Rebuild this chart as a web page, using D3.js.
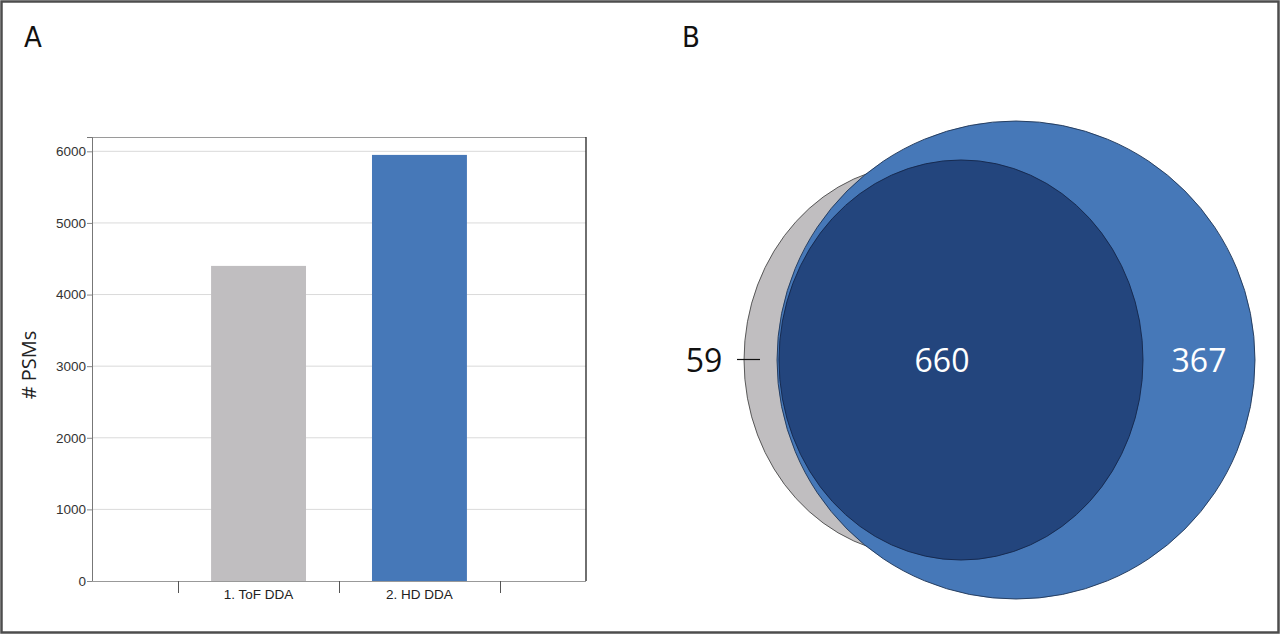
<!DOCTYPE html>
<html>
<head>
<meta charset="utf-8">
<script src="https://cdn.jsdelivr.net/npm/d3@7/dist/d3.min.js"></script>
<style>
  html, body { margin: 0; padding: 0; background: #fff; }
  svg { display: block; }
</style>
</head>
<body>
<svg id="fig" width="1280" height="634"></svg>
<script>
// panel A data
const categories = ['1. ToF DDA', '2. HD DDA'];
const psmCounts = [4400, 5950];
const barColors = ['#c0bec0', '#4678b8'];
const yTicks = [0, 1000, 2000, 3000, 4000, 5000, 6000];

// panel B data: only ToF, shared, only HD
const vennLabels = ['ToF only', 'shared', 'HD only'];
const vennCounts = [59, 660, 367];

const svg = d3.select('svg#fig');

// outer frame
svg.append('rect')
  .attr('x', 1.5).attr('y', 1.5)
  .attr('width', 1277).attr('height', 631)
  .attr('fill', 'none')
  .attr('stroke', '#4d4d4d')
  .attr('stroke-width', 2.5);

const panelFont = '"DejaVu Sans Condensed", "Liberation Sans", sans-serif';
svg.append('text').attr('x', 24).attr('y', 47)
  .attr('font-family', panelFont).attr('font-size', 29).attr('fill', '#111')
  .text('A');
svg.append('text').attr('x', 682).attr('y', 47)
  .attr('font-family', panelFont).attr('font-size', 29).attr('fill', '#111')
  .text('B');

// ---------- panel A: bar chart ----------
const plotLeft = 92, plotRight = 586, plotTop = 137, plotBottom = 581;
const axisFont = '"Liberation Sans", Arial, sans-serif';

const x = d3.scaleBand()
  .domain(categories)
  .range([plotLeft, plotRight])
  .paddingInner(0.41)
  .paddingOuter(0.74);

const y = d3.scaleLinear()
  .domain([0, 6200])
  .range([plotBottom, plotTop]);

const gA = svg.append('g');

// gridlines
gA.selectAll('.grid')
  .data(yTicks.filter(d => d > 0))
  .enter().append('line')
  .attr('x1', plotLeft).attr('x2', plotRight)
  .attr('y1', d => y(d)).attr('y2', d => y(d))
  .attr('stroke', '#dadada')
  .attr('stroke-width', 1);

// bars
gA.selectAll('.bar')
  .data(categories)
  .enter().append('rect')
  .attr('x', d => x(d))
  .attr('width', x.bandwidth())
  .attr('y', (d, i) => y(psmCounts[i]))
  .attr('height', (d, i) => plotBottom - y(psmCounts[i]))
  .attr('fill', (d, i) => barColors[i]);

// frame of the plot
gA.append('line').attr('x1', plotLeft).attr('x2', plotRight).attr('y1', plotTop + 0.5).attr('y2', plotTop + 0.5)
  .attr('stroke', '#9a9a9a');
gA.append('line').attr('x1', plotRight).attr('x2', plotRight).attr('y1', plotTop).attr('y2', plotBottom)
  .attr('stroke', '#222').attr('stroke-width', 1.3);

// y axis
const yAxis = d3.axisLeft(y)
  .tickValues(yTicks)
  .tickSize(5)
  .tickPadding(1)
  .tickFormat(d3.format('d'));

const yG = gA.append('g')
  .attr('transform', `translate(${plotLeft},0)`)
  .call(yAxis);
yG.attr('font-family', axisFont).attr('font-size', 13.5);
yG.select('.domain').attr('stroke', '#777');
yG.selectAll('.tick line').attr('stroke', '#888');
yG.selectAll('.tick text').attr('fill', '#333');

// x axis: baseline, category boundary ticks, labels
gA.append('line').attr('x1', plotLeft).attr('x2', plotRight).attr('y1', plotBottom + 0.5).attr('y2', plotBottom + 0.5)
  .attr('stroke', '#999');

const step = x.step();
const bounds = categories.map(c => x(c) - step * x.paddingInner() / 2);
bounds.push(x(categories[categories.length - 1]) + x.bandwidth() + step * x.paddingInner() / 2);

gA.selectAll('.xtick')
  .data(bounds)
  .enter().append('line')
  .attr('x1', d => Math.round(d) + 0.5).attr('x2', d => Math.round(d) + 0.5)
  .attr('y1', plotBottom).attr('y2', plotBottom + 12)
  .attr('stroke', '#555');

gA.selectAll('.xlabel')
  .data(categories)
  .enter().append('text')
  .attr('x', d => x(d) + x.bandwidth() / 2)
  .attr('y', 599)
  .attr('text-anchor', 'middle')
  .attr('font-family', axisFont)
  .attr('font-size', 13.5)
  .attr('fill', '#222')
  .text(d => d);

gA.append('text')
  .attr('transform', `translate(36,${(plotTop + plotBottom) / 2 + 6}) rotate(-90)`)
  .attr('text-anchor', 'middle')
  .attr('font-family', '"Open Sans", "Noto Sans", sans-serif')
  .attr('font-size', 20)
  .attr('fill', '#222')
  .text('# PSMs');

// ---------- panel B: Venn ----------
const tofTotal = vennCounts[0] + vennCounts[1];
const hdTotal = vennCounts[1] + vennCounts[2];

const r = d3.scaleSqrt().domain([0, hdTotal]).range([0, 239]);

const cy = 360;
const hdCx = 1016;
const shapes = [
  {name: 'ToF', n: tofTotal, cx: hdCx - 94, sx: 0.89, sy: 0.98, fill: '#c0bec0', stroke: '#4a4a4a'},
  {name: 'HD', n: hdTotal, cx: hdCx, sx: 1, sy: 1, fill: '#4678b8', stroke: '#1f3556'},
  {name: 'shared', n: vennCounts[1], cx: hdCx - 55, sx: 0.95, sy: 1.044, fill: '#23457d', stroke: '#14264a'}
];

const gB = svg.append('g');
gB.selectAll('ellipse')
  .data(shapes)
  .enter().append('ellipse')
  .attr('cx', d => d.cx)
  .attr('cy', cy)
  .attr('rx', d => r(d.n) * d.sx)
  .attr('ry', d => r(d.n) * d.sy)
  .attr('fill', d => d.fill)
  .attr('stroke', d => d.stroke)
  .attr('stroke-width', 0.9);

const tof = shapes[0], hd = shapes[1], shared = shapes[2];
const greyLeft = tof.cx - r(tof.n) * tof.sx;
const sharedRight = shared.cx + r(shared.n) * shared.sx;
const hdRight = hd.cx + r(hd.n);

// "59" sits outside with a leader line
gB.append('line')
  .attr('x1', greyLeft - 7).attr('x2', greyLeft + 16)
  .attr('y1', cy - 0.5).attr('y2', cy - 0.5)
  .attr('stroke', '#111').attr('stroke-width', 1.2);

const vennFont = '"Open Sans", "Noto Sans", sans-serif';
const labelPos = [
  {x: greyLeft - 40, fill: '#111'},
  {x: 942, fill: '#fff'},
  {x: (sharedRight + hdRight) / 2, fill: '#fff'}
];
gB.selectAll('.vlabel')
  .data(vennCounts)
  .enter().append('text')
  .attr('x', (d, i) => labelPos[i].x)
  .attr('y', cy + 12)
  .attr('text-anchor', 'middle')
  .attr('font-family', vennFont)
  .attr('font-size', 32)
  .attr('fill', (d, i) => labelPos[i].fill)
  .text(d => d);
</script>
</body>
</html>
